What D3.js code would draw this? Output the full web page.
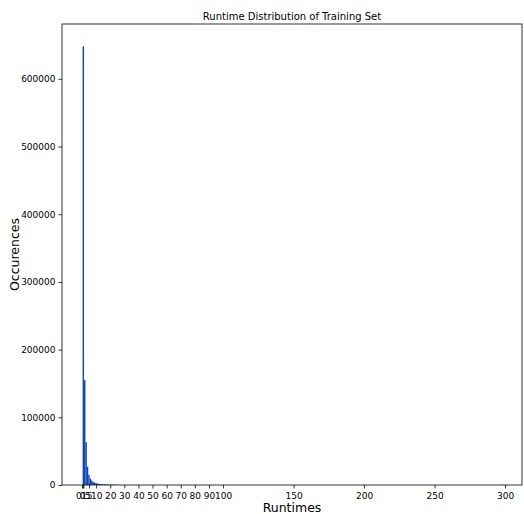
<!DOCTYPE html>
<html><head><meta charset="utf-8">
<script src="https://cdn.jsdelivr.net/npm/d3@7/dist/d3.min.js"></script>
<style>body{margin:0;background:#fff}svg{display:block}text{font-family:"DejaVu Sans",sans-serif}</style>
</head><body>
<script>
// histogram bins: start of each bin (runtime units) and counts
const binStarts = [0,1,2,3,4,5,6,7,8,9,10,11,12,13,14,15,16,17,18,19,20,21,22,23,24,25,26,27,28,29,30,298];
const binCounts = [648000,155000,63000,27000,15000,9500,6500,4800,3600,2800,2200,1800,1500,1300,1100,950,850,750,650,580,520,470,420,380,120,100,90,80,70,60,50,300];
const binWidth = 1;
const xTicks = [0,0.5,1,5,10,20,30,40,50,60,70,80,90,100,150,200,250,300];
const yTicks = [0,100000,200000,300000,400000,500000,600000];

const W=524,H=514, L=62, R=522, T=24, B=485;
const svg=d3.select("body").append("svg").attr("width",W).attr("height",H);
const x=d3.scaleLinear().domain([-14.2,312]).range([L,R]);
const y=d3.scaleLinear().domain([0,681000]).range([B,T]);

svg.append("g").selectAll("rect").data(binStarts).join("rect")
  .attr("x",(d)=>x(d)+0.6).attr("width",(d)=>x(d+binWidth)-x(d))
  .attr("y",(d,i)=>y(binCounts[i])).attr("height",(d,i)=>B-y(binCounts[i]))
  .attr("fill","#0a46b4");

const xa=svg.append("g").attr("transform",`translate(0,${B})`)
  .call(d3.axisBottom(x).tickValues(xTicks).tickFormat(d=>String(d)).tickSize(3.5).tickPadding(4));
const ya=svg.append("g").attr("transform",`translate(${L},0)`)
  .call(d3.axisLeft(y).tickValues(yTicks).tickFormat(d=>String(d)).tickSize(3.5).tickPadding(3));
[xa,ya].forEach(a=>{a.select(".domain").remove();a.selectAll("text").attr("font-size","9px").attr("fill","#000").style("font-family","DejaVu Sans");a.selectAll("line").attr("stroke","#000").attr("stroke-width",0.8);});

svg.append("rect").attr("x",L).attr("y",T).attr("width",R-L).attr("height",B-T)
  .attr("fill","none").attr("stroke","#000").attr("stroke-width",0.8);

svg.append("text").attr("x",(L+R)/2).attr("y",T-4).attr("text-anchor","middle")
  .attr("font-size","10px").text("Runtime Distribution of Training Set");
svg.append("text").attr("x",(L+R)/2).attr("y",512).attr("text-anchor","middle")
  .attr("font-size","12.5px").text("Runtimes");
svg.append("text").attr("transform",`translate(19,${(T+B)/2}) rotate(-90)`).attr("text-anchor","middle")
  .attr("font-size","12.5px").text("Occurences");
</script>
</body></html>
